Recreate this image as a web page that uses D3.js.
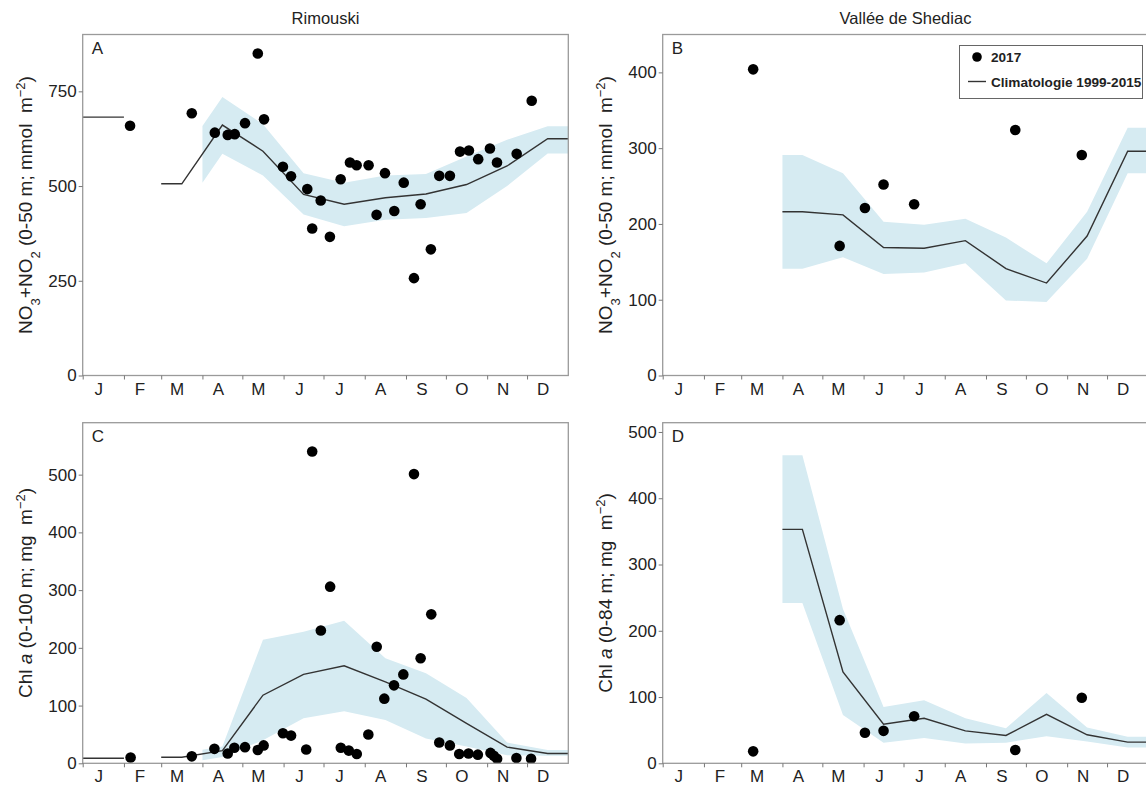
<!DOCTYPE html>
<html>
<head>
<meta charset="utf-8">
<script src="https://cdn.jsdelivr.net/npm/d3@7"></script>
<style>
  html, body { margin: 0; padding: 0; background: #fff; }
  svg { display: block; font-family: "Liberation Sans", Arial, sans-serif; }
</style>
</head>
<body>
<svg id="chart" width="1146" height="789"></svg>
<script>
// Calendar: day-of-year at the start of each month (Jan 1 = 0), last entry = year end
const monthStarts = [0, 31, 59, 90, 120, 151, 181, 212, 243, 273, 304, 334, 365];
const monthLabels = ["J", "F", "M", "A", "M", "J", "J", "A", "S", "O", "N", "D"];

// ---- Rimouski, NO3+NO2 (0-50 m), 2017 samples ----
const rimNitDays = [35.6, 82, 99.3, 109, 114.3, 122, 131.6, 136.3, 150.5, 156.6, 168.8, 172.5, 178.9, 185.8,
  193.9, 200.9, 205.9, 214.9, 220.9, 227.2, 234.2, 241.3, 249, 254, 261.7, 268, 276, 283.6, 290.3, 297.3,
  306.1, 311.4, 326.2, 337.5];
const rimNitValues = [659, 692, 641, 635, 637, 666, 850, 676, 551, 526, 492, 388, 462, 366,
  518, 562, 555, 555, 424, 534, 434, 509, 257, 452, 333, 527, 527, 591, 594, 571,
  599, 562, 585, 725];
// Monthly climatology 1999-2015 (mean, lower and upper bounds)
const rimNitMean = [682, null, 506, 661, 592, 478, 452, 469, 479, 504, 553, 625];
const rimNitLow  = [null, null, null, 585, 528, 425, 394, 411, 416, 429, 500, 586];
const rimNitHigh = [null, null, null, 735, 663, 534, 509, 528, 532, 578, 622, 658];

// ---- Vallée de Shediac, NO3+NO2 (0-50 m) ----
const shedDays = [68, 133, 152, 166, 189, 265, 315];
const shedNitValues = [404, 171, 221, 252, 226, 324, 291];
const shedNitMean = [null, null, null, 216, 212, 169, 168, 178, 141, 122, 184, 296];
const shedNitLow  = [null, null, null, 141, 156, 134, 136, 148, 99, 97, 154, 267];
const shedNitHigh = [null, null, null, 291, 267, 203, 199, 207, 182, 148, 216, 327];

// ---- Rimouski, Chl a (0-100 m) ----
const rimChlDays = [36, 82, 99, 109, 114, 122, 131.6, 136, 150.5, 156.6, 168, 172.5, 179, 186, 194, 200, 206,
  214.7, 221, 226.7, 234, 241, 249, 254, 262, 268, 276, 283, 290, 297, 306.5, 309, 311.5, 326, 337];
const rimChlValues = [10, 12, 25, 17, 27, 28, 23, 31, 52, 48, 24, 540, 230, 306, 27, 22, 16,
  50, 202, 112, 135, 154, 501, 182, 258, 36, 31, 16, 17, 15, 18, 13, 8, 9, 8];
const rimChlMean = [8.7, null, 10.4, 22, 118, 154, 169, 141, 111, 69, 28, 17];
const rimChlLow  = [null, null, null, 11, 40, 78, 90, 75, 43, 29, 14, 13];
const rimChlHigh = [null, null, null, 29, 214, 228, 247, 182, 156, 113, 36, 23];

// ---- Vallée de Shediac, Chl a (0-84 m) ----
const shedChlValues = [18, 216, 46, 49, 71, 20, 99];
const shedChlMean = [null, null, null, 353, 138, 59, 68, 49, 42, 74, 43, 32];
const shedChlLow  = [null, null, null, 242, 73, 31, 38, 30, 31, 41, 33, 24];
const shedChlHigh = [null, null, null, 465, 233, 85, 95, 68, 53, 106, 54, 40];

const yTicksA = [0, 250, 500, 750];
const yTicksB = [0, 100, 200, 300, 400];
const yTicksCD = [0, 100, 200, 300, 400, 500];

const svg = d3.select("#chart");
const ink = "#222";
const bandFill = "#d6ebf2";
const tickFont = 17;

const mid = i => (monthStarts[i] + monthStarts[i + 1]) / 2;

// contiguous runs of months holding a value
function runsOf(arr) {
  const runs = [];
  let start = null;
  arr.forEach((v, i) => {
    if (v != null && start === null) start = i;
    if ((v == null || i === arr.length - 1) && start !== null) {
      runs.push([start, v == null ? i - 1 : i]);
      start = null;
    }
  });
  return runs;
}

// climatology vertices: month mids, held flat to the edges of each run
function meanPaths(mean) {
  return runsOf(mean).map(([a, b]) => {
    const pts = [{ d: monthStarts[a], v: mean[a] }];
    for (let i = a; i <= b; i++) pts.push({ d: mid(i), v: mean[i] });
    pts.push({ d: monthStarts[b + 1], v: mean[b] });
    return pts;
  });
}

function meanAt(paths, t) {
  for (const p of paths) {
    if (t >= p[0].d && t <= p[p.length - 1].d) {
      for (let k = 1; k < p.length; k++) {
        if (t <= p[k].d) {
          const f = p[k].d === p[k - 1].d ? 1 : (t - p[k - 1].d) / (p[k].d - p[k - 1].d);
          return p[k - 1].v + f * (p[k].v - p[k - 1].v);
        }
      }
    }
  }
  return null;
}

// envelope follows the climatology line, offset by each month's spread
function bandPaths(mean, low, high, paths) {
  return runsOf(high).map(([a, b]) => {
    const pts = [];
    const add = (t, i) => {
      const m = meanAt(paths, t);
      pts.push({ d: t, lo: m - (mean[i] - low[i]), hi: m + (high[i] - mean[i]) });
    };
    add(monthStarts[a], a);
    for (let i = a; i <= b; i++) add(mid(i), i);
    add(monthStarts[b + 1], b);
    return pts;
  });
}

function panel(cfg) {
  const { x0, y0, w, h, yMax, yTicks, letter, days, values, mean, low, high, yLabel, axisTitleX } = cfg;
  const x = d3.scaleLinear().domain([0, 365]).range([x0, x0 + w]);
  const y = d3.scaleLinear().domain([0, yMax]).range([y0 + h, y0]);
  const g = svg.append("g");

  const paths = meanPaths(mean);
  const bands = bandPaths(mean, low, high, paths);

  g.selectAll("path.band").data(bands).join("path")
    .attr("fill", bandFill)
    .attr("d", d3.area().x(d => x(d.d)).y0(d => y(d.lo)).y1(d => y(d.hi)));

  g.selectAll("path.clim").data(paths).join("path")
    .attr("fill", "none").attr("stroke", "#333").attr("stroke-width", 1.4)
    .attr("d", d3.line().x(d => x(d.d)).y(d => y(d.v)));

  g.selectAll("circle").data(days.map((d, i) => ({ d, v: values[i] }))).join("circle")
    .attr("cx", d => x(d.d)).attr("cy", d => y(d.v)).attr("r", 5.3).attr("fill", "#000");

  // frame
  g.append("rect").attr("x", x0).attr("y", y0).attr("width", w).attr("height", h)
    .attr("fill", "none").attr("stroke", "#9a9a9a").attr("stroke-width", 1.3);

  // y axis
  const ya = g.append("g").attr("transform", `translate(${x0},0)`)
    .call(d3.axisLeft(y).tickValues(yTicks).tickSize(4).tickPadding(2).tickFormat(d3.format("d")));
  ya.select(".domain").remove();
  ya.selectAll("line").attr("stroke", "#777");
  ya.selectAll("text").attr("font-size", tickFont).attr("fill", ink)
    .attr("font-family", "'Liberation Sans', Arial, sans-serif");

  // x axis: ticks at month starts, labels mid-month
  const xa = g.append("g").attr("transform", `translate(0,${y0 + h})`)
    .call(d3.axisBottom(x).tickValues(monthStarts.slice(0, 12)).tickSize(4).tickFormat(""));
  xa.select(".domain").remove();
  xa.selectAll("line").attr("stroke", "#777");
  g.selectAll("text.month").data(monthLabels).join("text")
    .attr("x", (d, i) => x(monthStarts[i] + 12)).attr("y", y0 + h + 19)
    .attr("text-anchor", "middle").attr("font-size", tickFont).attr("fill", ink).text(d => d);

  // panel letter
  g.append("text").attr("x", x0 + 9).attr("y", y0 + 19).attr("font-size", 17).attr("fill", ink).text(letter);

  // axis title
  const t = g.append("text")
    .attr("transform", `translate(${axisTitleX},${y0 + h / 2}) rotate(-90)`)
    .attr("text-anchor", "middle").attr("font-size", 19).attr("fill", ink);
  yLabel(t);
  return { x, y };
}

const sub = (t, s) => t.append("tspan").attr("baseline-shift", "sub").attr("font-size", 13).text(s);
const sup = (t, s) => t.append("tspan").attr("baseline-shift", "super").attr("font-size", 13).text(s);

function nitLabel(t) {
  t.append("tspan").text("NO");
  sub(t, "3");
  t.append("tspan").text("+NO");
  sub(t, "2");
  t.append("tspan").text(" (0-50 m; mmol\u00a0\u00a0m");
  sup(t, "\u22122");
  t.append("tspan").text(")");
}
function chlLabel(depth) {
  return t => {
    t.append("tspan").text("Chl ");
    t.append("tspan").attr("font-style", "italic").text("a");
    t.append("tspan").text(` (${depth}; mg\u00a0\u00a0m`);
    sup(t, "\u22122");
    t.append("tspan").text(")");
  };
}

const leftX = 82.7, rightX = 662.7, topY = 34.5, botY = 422.7, W = 485.6, H = 341;

panel({ x0: leftX, y0: topY, w: W, h: H, yMax: 900, yTicks: yTicksA, letter: "A",
  days: rimNitDays, values: rimNitValues, mean: rimNitMean, low: rimNitLow, high: rimNitHigh,
  yLabel: nitLabel, axisTitleX: 32 });
panel({ x0: rightX, y0: topY, w: W, h: H, yMax: 450, yTicks: yTicksB, letter: "B",
  days: shedDays, values: shedNitValues, mean: shedNitMean, low: shedNitLow, high: shedNitHigh,
  yLabel: nitLabel, axisTitleX: 612 });
panel({ x0: leftX, y0: botY, w: W, h: 340.6, yMax: 590, yTicks: yTicksCD, letter: "C",
  days: rimChlDays, values: rimChlValues, mean: rimChlMean, low: rimChlLow, high: rimChlHigh,
  yLabel: chlLabel("0-100 m"), axisTitleX: 32 });
panel({ x0: rightX, y0: botY, w: W, h: 340.6, yMax: 514, yTicks: yTicksCD, letter: "D",
  days: shedDays, values: shedChlValues, mean: shedChlMean, low: shedChlLow, high: shedChlHigh,
  yLabel: chlLabel("0-84 m"), axisTitleX: 612 });

// column titles
svg.append("text").attr("x", leftX + W / 2).attr("y", 24).attr("text-anchor", "middle")
  .attr("font-size", 16.5).attr("fill", ink).text("Rimouski");
svg.append("text").attr("x", rightX + W / 2).attr("y", 24).attr("text-anchor", "middle")
  .attr("font-size", 16.5).attr("fill", ink).text("Vallée de Shediac");

// legend
const lg = svg.append("g");
lg.append("rect").attr("x", 959.5).attr("y", 45.5).attr("width", 183).attr("height", 53)
  .attr("fill", "#fff").attr("stroke", "#666").attr("stroke-width", 1);
lg.append("circle").attr("cx", 977).attr("cy", 57).attr("r", 4.8).attr("fill", "#000");
lg.append("text").attr("x", 991).attr("y", 61.5).attr("font-size", 13.6).attr("font-weight", "bold")
  .attr("fill", ink).text("2017");
lg.append("line").attr("x1", 968).attr("x2", 986).attr("y1", 81.5).attr("y2", 81.5)
  .attr("stroke", "#333").attr("stroke-width", 1.4);
lg.append("text").attr("x", 991).attr("y", 86.5).attr("font-size", 13.6).attr("font-weight", "bold")
  .attr("fill", ink).text("Climatologie 1999-2015");
</script>
</body>
</html>
